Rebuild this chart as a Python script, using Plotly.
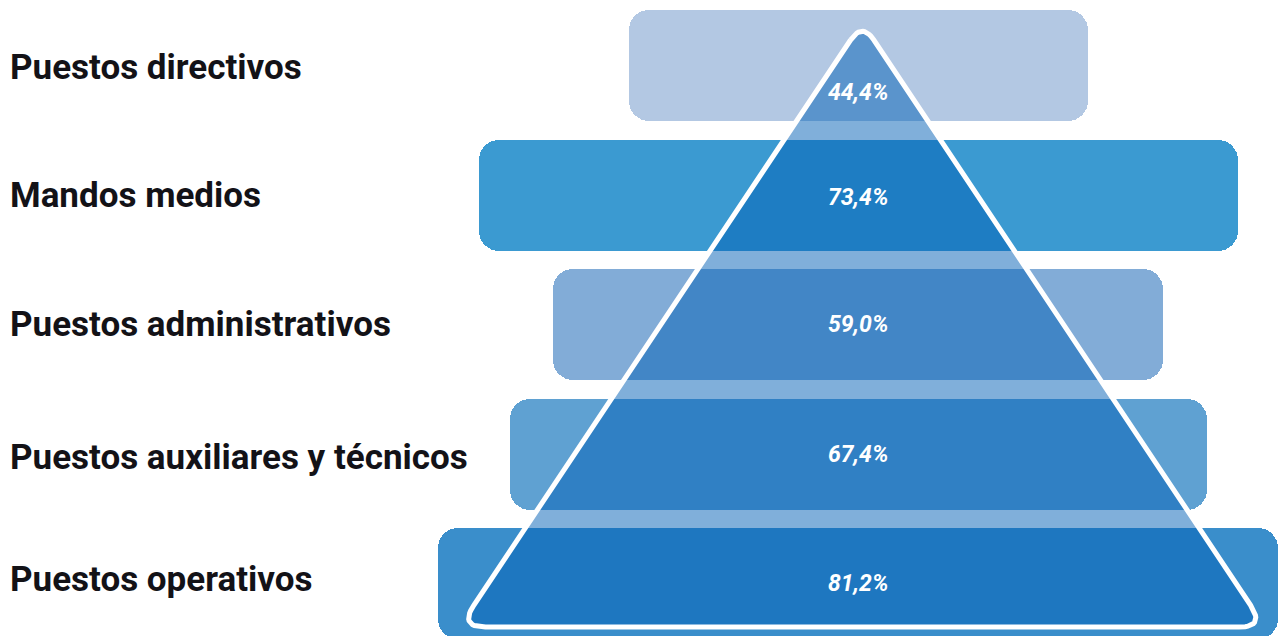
import numpy as np
import plotly.graph_objects as go

# ---------------- data ----------------
categories = ["Puestos directivos", "Mandos medios", "Puestos administrativos",
              "Puestos auxiliares y técnicos", "Puestos operativos"]
values = [44.4, 73.4, 59.0, 67.4, 81.2]
value_labels = ["44,4%", "73,4%", "59,0%", "67,4%", "81,2%"]
bar_colors = ["#b3c8e3", "#3b9ad1", "#82acd7", "#5fa1d2", "#3a8ecb"]
y_positions = [4, 3, 2, 1, 0]

# ---------------- layout geometry ----------------
W, H = 1279, 636
X_RANGE = [-83.0, 40.7]
Y_RANGE = [-0.405, 4.506]
label_yshift = [-2, 0, 0, -3.5, 4.5]
value_yshift = [-27, -2, 0, 0, 0]

# triangle geometry (data units)
TRI_CX = 0.39
TRI_TOP = 4.332
TRI_BASE = -0.336
TRI_HALF = 38.97
TRI_RADIUS_PX = 14


def to_px(x, y):
    px = (x - X_RANGE[0]) / (X_RANGE[1] - X_RANGE[0]) * W
    py = (Y_RANGE[1] - y) / (Y_RANGE[1] - Y_RANGE[0]) * H
    return np.array([px, py], dtype=float)


def to_data(p):
    x = X_RANGE[0] + p[0] / W * (X_RANGE[1] - X_RANGE[0])
    y = Y_RANGE[1] - p[1] / H * (Y_RANGE[1] - Y_RANGE[0])
    return x, y


def rounded_polygon(verts, r, n=16):
    pts = []
    m = len(verts)
    for i in range(m):
        P = verts[i]
        A = verts[i - 1]
        B = verts[(i + 1) % m]
        u1 = (A - P) / np.linalg.norm(A - P)
        u2 = (B - P) / np.linalg.norm(B - P)
        ang = np.arccos(np.clip(np.dot(u1, u2), -1, 1))
        d = r / np.tan(ang / 2)
        s = P + u1 * d
        e = P + u2 * d
        for t in np.linspace(0, 1, n):
            q = (1 - t) ** 2 * s + 2 * (1 - t) * t * P + t ** 2 * e
            pts.append(q)
    pts.append(pts[0])
    return pts


fig = go.Figure()

fig.add_trace(go.Bar(
    y=y_positions,
    x=values,
    base=[-v / 2 for v in values],
    orientation="h",
    width=0.857,
    marker=dict(color=bar_colors, line=dict(width=0), cornerradius=20),
    hoverinfo="skip",
    showlegend=False,
))

verts = [to_px(TRI_CX, TRI_TOP),
         to_px(TRI_CX + TRI_HALF, TRI_BASE),
         to_px(TRI_CX - TRI_HALF, TRI_BASE)]
pts = rounded_polygon(verts, TRI_RADIUS_PX)
tx, ty = zip(*[to_data(p) for p in pts])

fig.add_trace(go.Scatter(
    x=tx, y=ty,
    mode="lines",
    fill="toself",
    fillcolor="rgba(1,95,181,0.5)",
    line=dict(color="white", width=5),
    hoverinfo="skip",
    showlegend=False,
))

annotations = []
for cat, yp, ys in zip(categories, y_positions, label_yshift):
    annotations.append(dict(
        x=8 / W, xref="paper", xanchor="left",
        y=yp, yref="y", yanchor="middle", yshift=ys,
        text=cat, showarrow=False,
        font=dict(family="Roboto", size=35, color="#131217", weight="bold"),
    ))
for lab, yp, ys in zip(value_labels, y_positions, value_yshift):
    annotations.append(dict(
        x=0, xref="x", xanchor="center",
        y=yp, yref="y", yanchor="middle", yshift=ys,
        text=lab, showarrow=False,
        font=dict(family="Roboto", size=23, color="white", weight="bold", style="italic"),
    ))

fig.update_layout(
    width=W, height=H,
    margin=dict(l=0, r=0, t=0, b=0),
    paper_bgcolor="white",
    plot_bgcolor="white",
    xaxis=dict(range=X_RANGE, visible=False, fixedrange=True),
    yaxis=dict(range=Y_RANGE, visible=False, fixedrange=True),
    annotations=annotations,
    bargap=0,
)

fig.write_html("out.html", config={"displayModeBar": False})
